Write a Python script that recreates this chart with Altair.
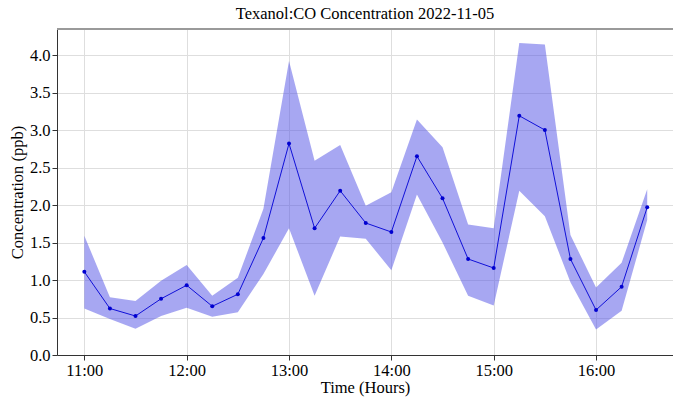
import altair as alt
import pandas as pd

# Sampling times in decimal hours (15-minute intervals)
hours = [11.0, 11.25, 11.5, 11.75, 12.0, 12.25, 12.5, 12.75, 13.0, 13.25, 13.5, 13.75,
         14.0, 14.25, 14.5, 14.75, 15.0, 15.25, 15.5, 15.75, 16.0, 16.25, 16.5]
# Mean Texanol:CO concentration (ppb)
mean_ppb = [1.11, 0.62, 0.52, 0.75, 0.93, 0.65, 0.81, 1.56, 2.82, 1.69, 2.19, 1.76,
            1.64, 2.65, 2.09, 1.28, 1.16, 3.19, 3.00, 1.28, 0.60, 0.91, 1.97]
# Lower / upper bounds of the shaded band
lower_ppb = [0.62, 0.48, 0.35, 0.52, 0.63, 0.51, 0.57, 1.08, 1.69, 0.79, 1.58, 1.55,
             1.13, 2.14, 1.50, 0.79, 0.66, 2.19, 1.85, 0.97, 0.34, 0.59, 1.80]
upper_ppb = [1.59, 0.77, 0.72, 0.99, 1.20, 0.79, 1.03, 1.95, 3.92, 2.59, 2.80, 1.99,
             2.17, 3.14, 2.77, 1.74, 1.69, 4.16, 4.14, 1.60, 0.90, 1.23, 2.21]
hour_ticks = [11, 12, 13, 14, 15, 16]
conc_ticks = [0, 0.5, 1.0, 1.5, 2.0, 2.5, 3.0, 3.5, 4.0]

df = pd.DataFrame({"hour": hours, "mean": mean_ppb, "lo": lower_ppb, "hi": upper_ppb})

FONT = "Liberation Serif"
FS = 16.5
W, H = 616, 326

axis_style = dict(
    labelFont=FONT, titleFont=FONT, labelFontSize=FS, titleFontSize=FS,
    labelColor="black", titleColor="black", titleFontWeight="normal",
    grid=True, gridColor="#dedede", domainColor="#333333", tickColor="#333333",
    tickSize=5, labelPadding=2,
)

x = alt.X(
    "hour:Q",
    scale=alt.Scale(domain=[10.733, 16.752], nice=False, zero=False),
    axis=alt.Axis(
        title="Time (Hours)",
        values=hour_ticks,
        labelExpr="format(datum.value, 'd') + ':00'",
        titlePadding=1,
        **axis_style,
    ),
)
y_scale = alt.Scale(domain=[0, 4.347], nice=False)
y_axis = alt.Axis(
    title="Concentration (ppb)",
    values=conc_ticks,
    format=".1f",
    titlePadding=4,
    **axis_style,
)

base = alt.Chart(df)

band = base.mark_area(color="#4f4fe6", opacity=0.5).encode(
    x=x,
    y=alt.Y("lo:Q", scale=y_scale, axis=y_axis),
    y2="hi:Q",
)
line = base.mark_line(color="#1010d8", strokeWidth=1).encode(
    x="hour:Q", y=alt.Y("mean:Q", scale=y_scale)
)
points = base.mark_circle(color="#0000d0", size=16, opacity=1).encode(
    x="hour:Q", y=alt.Y("mean:Q", scale=y_scale)
)
top_rule = alt.Chart(pd.DataFrame({"k": [0]})).mark_rule(
    color="#9a9a9a", strokeWidth=2
).encode(x=alt.value(0), x2=alt.value(W), y=alt.value(0))

chart = (
    alt.layer(band, line, points, top_rule)
    .properties(
        width=W,
        height=H,
        title=alt.TitleParams(
            "Texanol:CO Concentration 2022-11-05",
            font=FONT, fontSize=FS, fontWeight="normal", color="black", offset=6,
        ),
        autosize=alt.AutoSizeParams(type="none"),
        padding={"left": 57, "top": 29, "right": 0, "bottom": 43},
    )
    .configure(background="white")
    .configure_view(stroke=None)
)

chart.save("out.html", embed_options={"renderer": "svg", "actions": False})
